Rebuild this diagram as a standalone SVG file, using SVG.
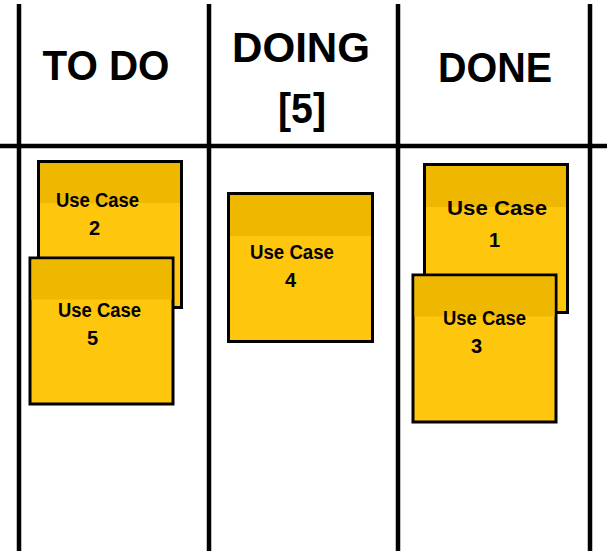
<svg xmlns="http://www.w3.org/2000/svg" width="607" height="551" viewBox="0 0 607 551">
  <style>
    .grid { stroke: #000; stroke-width: 4.5; fill: none; }
    .head { font-family: "Liberation Sans", Arial, sans-serif; font-weight: bold; font-size: 43px; fill: #000; text-anchor: middle; }
    .note { fill: #FEC70D; stroke: #000; stroke-width: 3; }
    .band { fill: #EFB800; }
    .lbl { font-family: "Liberation Sans", Arial, sans-serif; font-weight: bold; font-size: 20px; fill: #000; }
  </style>
  <rect width="607" height="551" fill="#fff"/>

  <!-- board grid -->
  <g id="board">
    <line class="grid" x1="19" y1="4" x2="19" y2="551"/>
    <line class="grid" x1="209" y1="4" x2="209" y2="551"/>
    <line class="grid" x1="398" y1="4" x2="398" y2="551"/>
    <line class="grid" x1="590" y1="4" x2="590" y2="551"/>
    <line class="grid" x1="0" y1="146" x2="607" y2="146"/>
  </g>

  <!-- column headers -->
  <g id="col-todo"><text class="head" x="106" y="80" textLength="127" lengthAdjust="spacingAndGlyphs">TO DO</text></g>
  <g id="col-doing">
    <text class="head" x="301" y="62" textLength="138" lengthAdjust="spacingAndGlyphs">DOING</text>
    <text class="head" x="302" y="123" textLength="48" lengthAdjust="spacingAndGlyphs">[5]</text>
  </g>
  <g id="col-done"><text class="head" x="495" y="82" textLength="114" lengthAdjust="spacingAndGlyphs">DONE</text></g>

  <!-- cards -->
  <g id="uc2">
    <rect class="note" x="38.5" y="161.5" width="143" height="146"/>
    <rect class="band" x="40" y="163" width="140" height="40"/>
    <text class="lbl" x="56" y="207" textLength="83" lengthAdjust="spacingAndGlyphs">Use Case</text>
    <text class="lbl" x="89" y="235">2</text>
  </g>
  <g id="uc5">
    <rect class="note" x="30" y="258" width="143" height="146"/>
    <rect class="band" x="31.5" y="259.5" width="140" height="40"/>
    <text class="lbl" x="58" y="317" textLength="83" lengthAdjust="spacingAndGlyphs">Use Case</text>
    <text class="lbl" x="87" y="345">5</text>
  </g>
  <g id="uc4">
    <rect class="note" x="228.5" y="193.5" width="144" height="148"/>
    <rect class="band" x="230" y="195" width="141" height="41"/>
    <text class="lbl" x="250" y="259" textLength="84" lengthAdjust="spacingAndGlyphs">Use Case</text>
    <text class="lbl" x="285" y="287">4</text>
  </g>
  <g id="uc1">
    <rect class="note" x="424.5" y="164.5" width="143" height="148"/>
    <rect class="band" x="426" y="166" width="140" height="41"/>
    <text class="lbl" x="447" y="215" font-size="23" textLength="100" lengthAdjust="spacingAndGlyphs">Use Case</text>
    <text class="lbl" x="489" y="247" font-size="23">1</text>
  </g>
  <g id="uc3">
    <rect class="note" x="413" y="275" width="143" height="147"/>
    <rect class="band" x="414.5" y="276.5" width="140" height="40"/>
    <text class="lbl" x="443" y="325" textLength="83" lengthAdjust="spacingAndGlyphs">Use Case</text>
    <text class="lbl" x="471" y="353">3</text>
  </g>
</svg>
